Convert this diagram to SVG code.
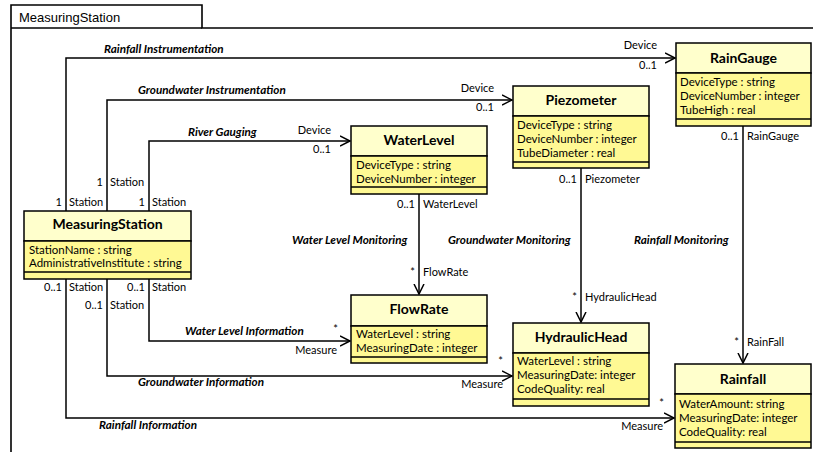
<svg xmlns="http://www.w3.org/2000/svg" width="813" height="452" viewBox="0 0 813 452">
<style>
text{font-family:Lato,"Liberation Sans",sans-serif;fill:#000}
.frame{fill:none;stroke:#000;stroke-width:1.6}
.tabt{font-family:"Liberation Sans",Arial,sans-serif;font-size:13px}
.hd{fill:#FFFFCC;stroke:#000;stroke-width:1.5}
.at{fill:#FFF994;stroke:#000;stroke-width:1.5}
.ln{stroke:#000;stroke-width:1.3}
.title{font-size:14px;font-weight:bold;text-anchor:middle}
.attr{font-size:11.5px}
.conn{fill:none;stroke:#000;stroke-width:1.5}
.lab{font-size:11.7px;font-style:italic;font-weight:bold}
.role{font-size:11px}
.r{text-anchor:end}
</style>
<defs>
<marker id="arr" markerWidth="12" markerHeight="12" refX="10" refY="5" orient="auto" markerUnits="userSpaceOnUse" viewBox="0 0 12 10">
<path d="M0,0 L10,5 L0,10" fill="none" stroke="#000" stroke-width="1.5"/>
</marker>
</defs>
<g id="frame">
<path class="frame" d="M11,452 V5 H202 V28 H813"/>
<path class="frame" d="M11,28 H202"/>
<text class="tabt" x="19" y="22">MeasuringStation</text>
</g>
<g id="connectors">
<path class="conn" d="M66,211 V58 H675" marker-end="url(#arr)"/>
<path class="conn" d="M107,211 V100 H512" marker-end="url(#arr)"/>
<path class="conn" d="M149,211 V141 H350" marker-end="url(#arr)"/>
<path class="conn" d="M149,279 V341 H350" marker-end="url(#arr)"/>
<path class="conn" d="M107,279 V376 H512" marker-end="url(#arr)"/>
<path class="conn" d="M66,279 V418 H674" marker-end="url(#arr)"/>
<path class="conn" d="M419,194 V294" marker-end="url(#arr)"/>
<path class="conn" d="M581,168 V322" marker-end="url(#arr)"/>
<path class="conn" d="M743,126 V363" marker-end="url(#arr)"/>
<text class="lab" x="104" y="53">Rainfall Instrumentation</text>
<text class="lab" x="138" y="94">Groundwater Instrumentation</text>
<text class="lab" x="188" y="136">River Gauging</text>
<text class="lab" x="185" y="335">Water Level Information</text>
<text class="lab" x="138" y="386">Groundwater Information</text>
<text class="lab" x="99" y="429">Rainfall Information</text>
<text class="lab" x="292" y="244">Water Level Monitoring</text>
<text class="lab" x="448" y="244">Groundwater Monitoring</text>
<text class="lab" x="634" y="244">Rainfall Monitoring</text>
<text class="role r" x="657" y="49">Device</text>
<text class="role r" x="657" y="69">0..1</text>
<text class="role r" x="494" y="92">Device</text>
<text class="role r" x="494" y="111">0..1</text>
<text class="role r" x="331" y="134">Device</text>
<text class="role r" x="331" y="153">0..1</text>
<text class="role r" x="62" y="206">1</text>
<text class="role" x="69" y="206">Station</text>
<text class="role r" x="103" y="186">1</text>
<text class="role" x="110" y="186">Station</text>
<text class="role r" x="145" y="206">1</text>
<text class="role" x="152" y="206">Station</text>
<text class="role r" x="62" y="291">0..1</text>
<text class="role" x="69" y="291">Station</text>
<text class="role r" x="103" y="309">0..1</text>
<text class="role" x="110" y="309">Station</text>
<text class="role r" x="145" y="291">0..1</text>
<text class="role" x="152" y="291">Station</text>
<text class="role r" x="338" y="333">*</text>
<text class="role r" x="337" y="354">Measure</text>
<text class="role r" x="503" y="365">*</text>
<text class="role r" x="503" y="388">Measure</text>
<text class="role r" x="664" y="407">*</text>
<text class="role r" x="663" y="430">Measure</text>
<text class="role r" x="415" y="208">0..1</text>
<text class="role" x="423" y="208">WaterLevel</text>
<text class="role r" x="415" y="276">*</text>
<text class="role" x="423" y="276">FlowRate</text>
<text class="role r" x="577" y="183">0..1</text>
<text class="role" x="585" y="183">Piezometer</text>
<text class="role r" x="577" y="301">*</text>
<text class="role" x="585" y="301">HydraulicHead</text>
<text class="role r" x="739" y="140">0..1</text>
<text class="role" x="747" y="140">RainGauge</text>
<text class="role r" x="739" y="346">*</text>
<text class="role" x="747" y="346">RainFall</text>
</g>
<g id="RainGauge">
<rect class="hd" x="676" y="43" width="135" height="30"/>
<rect class="at" x="676" y="73" width="135" height="53"/>
<line class="ln" x1="676" y1="119" x2="811" y2="119"/>
<text class="title" x="743.5" y="63">RainGauge</text>
<text class="attr" x="680" y="86">DeviceType : string</text>
<text class="attr" x="680" y="100">DeviceNumber : integer</text>
<text class="attr" x="680" y="114">TubeHigh : real</text>
</g>
<g id="Piezometer">
<rect class="hd" x="513" y="86" width="136" height="30"/>
<rect class="at" x="513" y="116" width="136" height="52"/>
<line class="ln" x1="513" y1="162" x2="649" y2="162"/>
<text class="title" x="581" y="105">Piezometer</text>
<text class="attr" x="517" y="129">DeviceType : string</text>
<text class="attr" x="517" y="143">DeviceNumber : integer</text>
<text class="attr" x="517" y="157">TubeDiameter : real</text>
</g>
<g id="WaterLevel">
<rect class="hd" x="351" y="126" width="136" height="30"/>
<rect class="at" x="351" y="156" width="136" height="38"/>
<line class="ln" x1="351" y1="187" x2="487" y2="187"/>
<text class="title" x="419" y="145">WaterLevel</text>
<text class="attr" x="356" y="169">DeviceType : string</text>
<text class="attr" x="356" y="183">DeviceNumber : integer</text>
</g>
<g id="MeasuringStation">
<rect class="hd" x="24" y="211" width="167" height="30"/>
<rect class="at" x="24" y="241" width="167" height="38"/>
<line class="ln" x1="24" y1="272" x2="191" y2="272"/>
<text class="title" x="107.5" y="229">MeasuringStation</text>
<text class="attr" x="29" y="254">StationName : string</text>
<text class="attr" x="29" y="267">AdministrativeInstitute : string</text>
</g>
<g id="FlowRate">
<rect class="hd" x="351" y="295" width="136" height="31"/>
<rect class="at" x="351" y="326" width="136" height="37"/>
<line class="ln" x1="351" y1="357" x2="487" y2="357"/>
<text class="title" x="419" y="314">FlowRate</text>
<text class="attr" x="356" y="338">WaterLevel : string</text>
<text class="attr" x="356" y="352">MeasuringDate : integer</text>
</g>
<g id="HydraulicHead">
<rect class="hd" x="513" y="323" width="136" height="30"/>
<rect class="at" x="513" y="353" width="136" height="53"/>
<line class="ln" x1="513" y1="399" x2="649" y2="399"/>
<text class="title" x="581" y="342">HydraulicHead</text>
<text class="attr" x="517" y="365">WaterLevel : string</text>
<text class="attr" x="517" y="379">MeasuringDate: integer</text>
<text class="attr" x="517" y="393">CodeQuality: real</text>
</g>
<g id="Rainfall">
<rect class="hd" x="675" y="364" width="136" height="30"/>
<rect class="at" x="675" y="394" width="136" height="54"/>
<line class="ln" x1="675" y1="442" x2="811" y2="442"/>
<text class="title" x="743" y="384">Rainfall</text>
<text class="attr" x="679" y="408">WaterAmount: string</text>
<text class="attr" x="679" y="422">MeasuringDate: integer</text>
<text class="attr" x="679" y="436">CodeQuality: real</text>
</g>
</svg>
